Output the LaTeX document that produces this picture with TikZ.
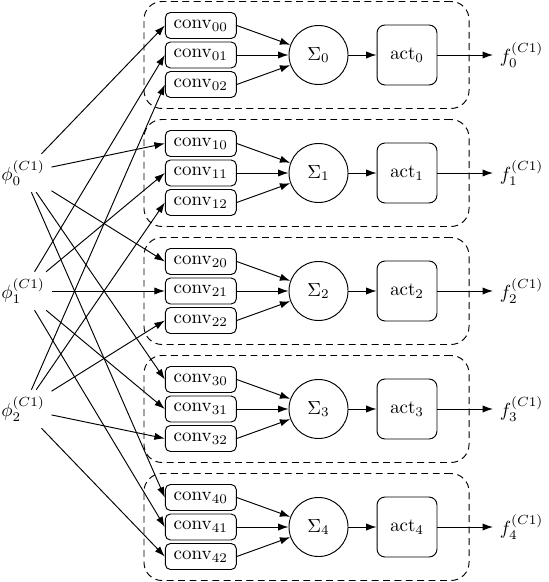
\documentclass[tikz,border=0pt]{standalone}
\usetikzlibrary{arrows.meta}
\begin{document}
\begin{tikzpicture}[x=0.527pt,y=-0.527pt,
  line width=0.5pt,
  arr/.style={-{Latex[length=5.5pt,width=3.8pt]}},
  convbox/.style={draw, rounded corners=2.7pt, minimum width=37.4pt, minimum height=13.7pt, inner sep=1pt},
  sumnode/.style={draw, circle, minimum size=31.1pt, inner sep=0pt},
  actbox/.style={draw, rounded corners=4.2pt, minimum size=31.6pt, inner sep=0pt},
  groupbox/.style={draw, dash pattern=on 3.6pt off 2.4pt, rounded corners=9.5pt, minimum width=171.3pt, minimum height=56.4pt, inner sep=0pt},
  phinode/.style={inner sep=3.33pt},
  outnode/.style={anchor=west, inner sep=3.33pt}
]
\useasboundingbox (0,0) rectangle (548,582);
\foreach \i in {0,...,4} {
  \pgfmathsetmacro\yc{55+118*\i}
  \node[groupbox] (g\i) at (306.5,\yc) {};
  \node[convbox] (c\i0) at (200.8,\yc-29.5) {$\mathrm{conv}_{\i0}$};
  \node[convbox] (c\i1) at (200.8,\yc) {$\mathrm{conv}_{\i1}$};
  \node[convbox] (c\i2) at (200.8,\yc+29.5) {$\mathrm{conv}_{\i2}$};
  \node[sumnode] (s\i) at (318.5,\yc) {$\Sigma_{\i}$};
  \node[actbox] (a\i) at (407,\yc) {$\mathrm{act}_{\i}$};
  \node[outnode] (f\i) at (493,\yc) {$f_{\i}^{(C1)}$};
}
\foreach \j in {0,1,2} {
  \pgfmathsetmacro\yp{173+118*\j}
  \node[phinode] (p\j) at (23,\yp) {$\phi_{\j}^{(C1)}$};
}
\foreach \i in {0,...,4} {
  \foreach \j in {0,1,2} {
    \draw[arr] (c\i\j.east) -- (s\i);
  }
  \draw[arr] (s\i) -- (a\i);
  \draw[arr] (a\i) -- (f\i);
}
\foreach \j in {0,1,2} {
  \foreach \i in {0,...,4} {
    \draw[arr] (p\j) -- (c\i\j.west);
  }
}
\end{tikzpicture}
\end{document}
